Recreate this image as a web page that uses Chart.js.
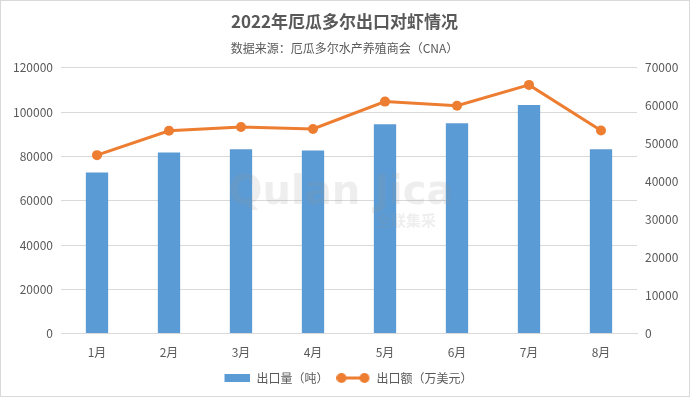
<!DOCTYPE html>
<html><head><meta charset="utf-8">
<script src="https://cdn.jsdelivr.net/npm/chart.js@4.4.0/dist/chart.umd.min.js"></script>
<style>
html,body{margin:0;padding:0;background:#fff;}
#wrap{width:688px;height:395px;border:1px solid #d9d9d9;position:relative;}
canvas{display:block;}
</style></head><body>
<div id="wrap"><canvas id="c" width="688" height="395"></canvas></div>
<script>
const categories = ['1月','2月','3月','4月','5月','6月','7月','8月'];
const volume = [72700, 81800, 83200, 82700, 94500, 95000, 103200, 83200];
const value = [47000, 53400, 54400, 53900, 61100, 60000, 65500, 53500];
const leftTicks = [0,20000,40000,60000,80000,100000,120000];
const rightTicks = [0,10000,20000,30000,40000,50000,60000,70000];

const FONT = '"Noto Sans CJK SC", "Noto Sans", sans-serif';
const GRAY = '#595959';

function barIcon(){
  const c=document.createElement('canvas');c.width=34;c.height=8;
  const x=c.getContext('2d');x.fillStyle='#5B9BD5';x.fillRect(8,0,26,8);return c;
}
function lineIcon(){
  const c=document.createElement('canvas');c.width=34;c.height=12;
  const x=c.getContext('2d');x.strokeStyle='#ED7D31';x.lineWidth=3;
  x.beginPath();x.moveTo(5,6);x.lineTo(28,6);x.stroke();
  x.fillStyle='#ED7D31';
  x.beginPath();x.arc(5,6,5,0,Math.PI*2);x.fill();
  x.beginPath();x.arc(28,6,5,0,Math.PI*2);x.fill();
  return c;
}

const watermark = {
  id:'wm',
  afterDatasetsDraw(chart){
    const ctx=chart.ctx;ctx.save();
    ctx.fillStyle='rgba(150,150,150,0.16)';
    ctx.font='bold 40px "DejaVu Sans", sans-serif';
    ctx.textBaseline='middle';ctx.textAlign='center';
    ctx.fillText('Qulan Jica',340,193);
    ctx.font='bold 15px '+FONT;
    ctx.fillText('全联集采',405,219);
    ctx.restore();
  }
};

new Chart(document.getElementById('c'),{
  data:{
    labels:categories,
    datasets:[
      {type:'line',label:'出口额（万美元）',data:value,yAxisID:'y2',borderColor:'#ED7D31',backgroundColor:'#ED7D31',borderWidth:3,pointRadius:5,pointBackgroundColor:'#ED7D31',pointBorderWidth:0,tension:0,order:0,pointStyle:'circle'},
      {type:'bar',label:'出口量（吨）',data:volume,yAxisID:'y',backgroundColor:'#5B9BD5',barPercentage:0.31,categoryPercentage:1,order:1}
    ]
  },
  options:{
    responsive:false,animation:false,
    layout:{padding:{left:5,right:6,top:4,bottom:2}},
    plugins:{
      title:{display:true,text:'2022年厄瓜多尔出口对虾情况',color:GRAY,font:{family:FONT,size:17,weight:'bold'},padding:{top:6,bottom:6}},
      subtitle:{display:true,text:'数据来源：厄瓜多尔水产养殖商会（CNA）',color:GRAY,font:{family:FONT,size:12},padding:{top:4,bottom:12}},
      legend:{position:'bottom',labels:{usePointStyle:true,pointStyleWidth:34,color:GRAY,font:{family:FONT,size:12},padding:8,
        generateLabels(chart){
          return [
            {text:'出口量（吨）',pointStyle:barIcon(),datasetIndex:1,fontColor:GRAY,lineWidth:0,strokeStyle:'transparent',fillStyle:'transparent'},
            {text:'出口额（万美元）',pointStyle:lineIcon(),datasetIndex:0,fontColor:GRAY,lineWidth:0,strokeStyle:'transparent',fillStyle:'transparent'}
          ];
        }}},
      tooltip:{enabled:false}
    },
    scales:{
      x:{grid:{display:false},border:{color:'#d9d9d9'},ticks:{color:GRAY,font:{family:FONT,size:12},padding:4}},
      y:{position:'left',min:0,max:120000,afterBuildTicks(a){a.ticks=leftTicks.map(v=>({value:v}));},
        afterFit(a){a.width=55;},
        grid:{color:'#d9d9d9',drawTicks:false},border:{display:false},
        ticks:{color:GRAY,font:{family:FONT,size:12},padding:8,callback:v=>String(v)}},
      y2:{position:'right',min:0,max:70000,afterBuildTicks(a){a.ticks=rightTicks.map(v=>({value:v}));},
        afterFit(a){a.width=46;},
        grid:{display:false,drawTicks:false},border:{display:false},
        ticks:{color:GRAY,font:{family:FONT,size:12},padding:8,callback:v=>String(v)}}
    }
  },
  plugins:[watermark]
});
</script>
</body></html>
